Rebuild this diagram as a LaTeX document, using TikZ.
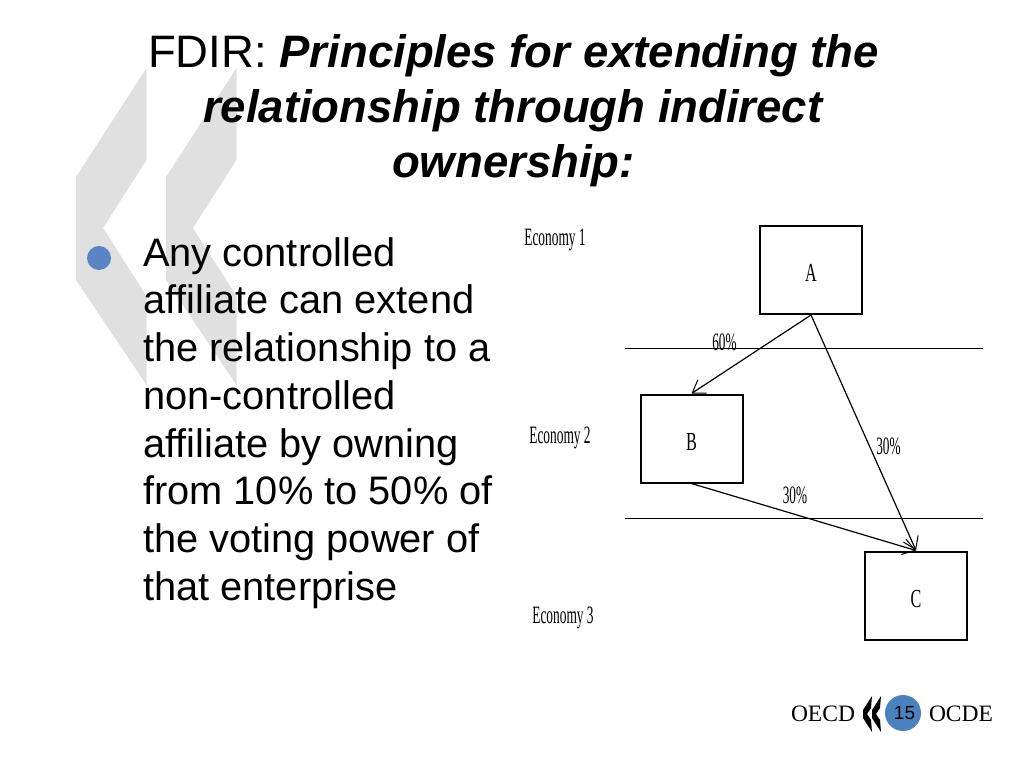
\documentclass[tikz,border=0pt]{standalone}
\usepackage{fontspec}
\setmainfont{Liberation Sans}
\newfontfamily\timesfont{Liberation Serif}
\usetikzlibrary{arrows.meta}
\definecolor{bulletblue}{HTML}{5B84C4}
\definecolor{pageblue}{HTML}{4A82BE}
\newcommand{\boxletter}[1]{\raisebox{-11.5pt}[0pt][0pt]{\scalebox{0.62}[1]{#1}}}

\tikzset{
  boxnode/.style={draw,line width=2pt,minimum width=102pt,minimum height=88pt,inner sep=0pt,font=\timesfont\fontsize{26}{26}\selectfont},
  econ/.style={font=\timesfont\fontsize{25}{25}\selectfont,xscale=0.535,inner sep=0pt},
  pct/.style={font=\timesfont\fontsize{25}{25}\selectfont,xscale=0.53,inner sep=0pt},
  link/.style={line width=1.2pt,-{Straight Barb[length=12pt,width=16pt,line width=1pt]}},
  logotext/.style={font=\timesfont\fontsize{23.5}{24}\selectfont,inner sep=0pt},
  chevron/.style={fill=black!12,draw=none},
}

\begin{document}
\begin{tikzpicture}[x=1pt,y=-1pt]
\useasboundingbox (0,0) rectangle (1024,768);

\fill[chevron] (146.5,68) -- (146.5,160) -- (103,228) -- (146.5,296) -- (146.5,385) -- (76,280) -- (76,177) -- cycle;
\fill[chevron] (236.5,68) -- (236.5,160) -- (193,228) -- (236.5,296) -- (236.5,385) -- (166,280) -- (166,177) -- cycle;

\node (title) [align=center,inner sep=0pt,font=\fontsize{45.5}{55}\selectfont] at (513.5,111)
  {FDIR: \textbf{\textit{Principles for extending the}}\\
   \textbf{\textit{relationship through indirect}}\\
   \textbf{\textit{ownership:}}};

\fill[bulletblue] (99,258) circle (12);

\node (body) [anchor=north west,align=left,inner sep=0pt,font=\fontsize{39.8}{47.75}\selectfont] at (143,237)
  {Any controlled\\
   affiliate can extend\\
   the relationship to a\\
   non-controlled\\
   affiliate by owning\\
   from 10\% to 50\% of\\
   the voting power of\\
   that enterprise};

\node (econa) [econ] at (555,240) {Economy 1};
\node (econb) [econ] at (560,438) {Economy 2};
\node (econc) [econ] at (563,618) {Economy 3};

\node (boxa) [boxnode] at (811,270) {\boxletter{A}};
\node (boxb) [boxnode] at (691.5,438.5) {\boxletter{B}};
\node (boxc) [boxnode] at (916,595.5) {\boxletter{C}};

\coordinate (upl) at (625,348);
\coordinate (upr) at (983,348);
\coordinate (lol) at (625,518.5);
\coordinate (lor) at (983,518.5);
\draw[line width=1pt] (upl) -- (upr);
\draw[line width=1pt] (lol) -- (lor);

\draw[link] (boxa.south) -- (boxb.north);
\draw[link] (boxa.south) -- (boxc.north);
\draw[link] (boxb.south) -- (boxc.north);

\node (pcta) [pct] at (724.5,342) {60\%};
\node (pctb) [pct] at (888.5,446) {30\%};
\node (pctc) [pct] at (795,495) {30\%};

\node (oecd) [logotext] at (823,714) {OECD};
\node (ocde) [logotext] at (961,714) {OCDE};
\fill[black] (872,696) -- (863,710) -- (863,718) -- (872,732) -- (871,720) -- (867,714) -- (871,708) -- cycle;
\fill[black] (881,696) -- (872,710) -- (872,718) -- (881,732) -- (880,720) -- (876,714) -- (880,708) -- cycle;
\node (page) [circle,fill=pageblue,minimum size=36pt,inner sep=0pt,font=\fontsize{19}{19}\selectfont] at (903,713) {\hspace{3pt}15};

\end{tikzpicture}
\end{document}
